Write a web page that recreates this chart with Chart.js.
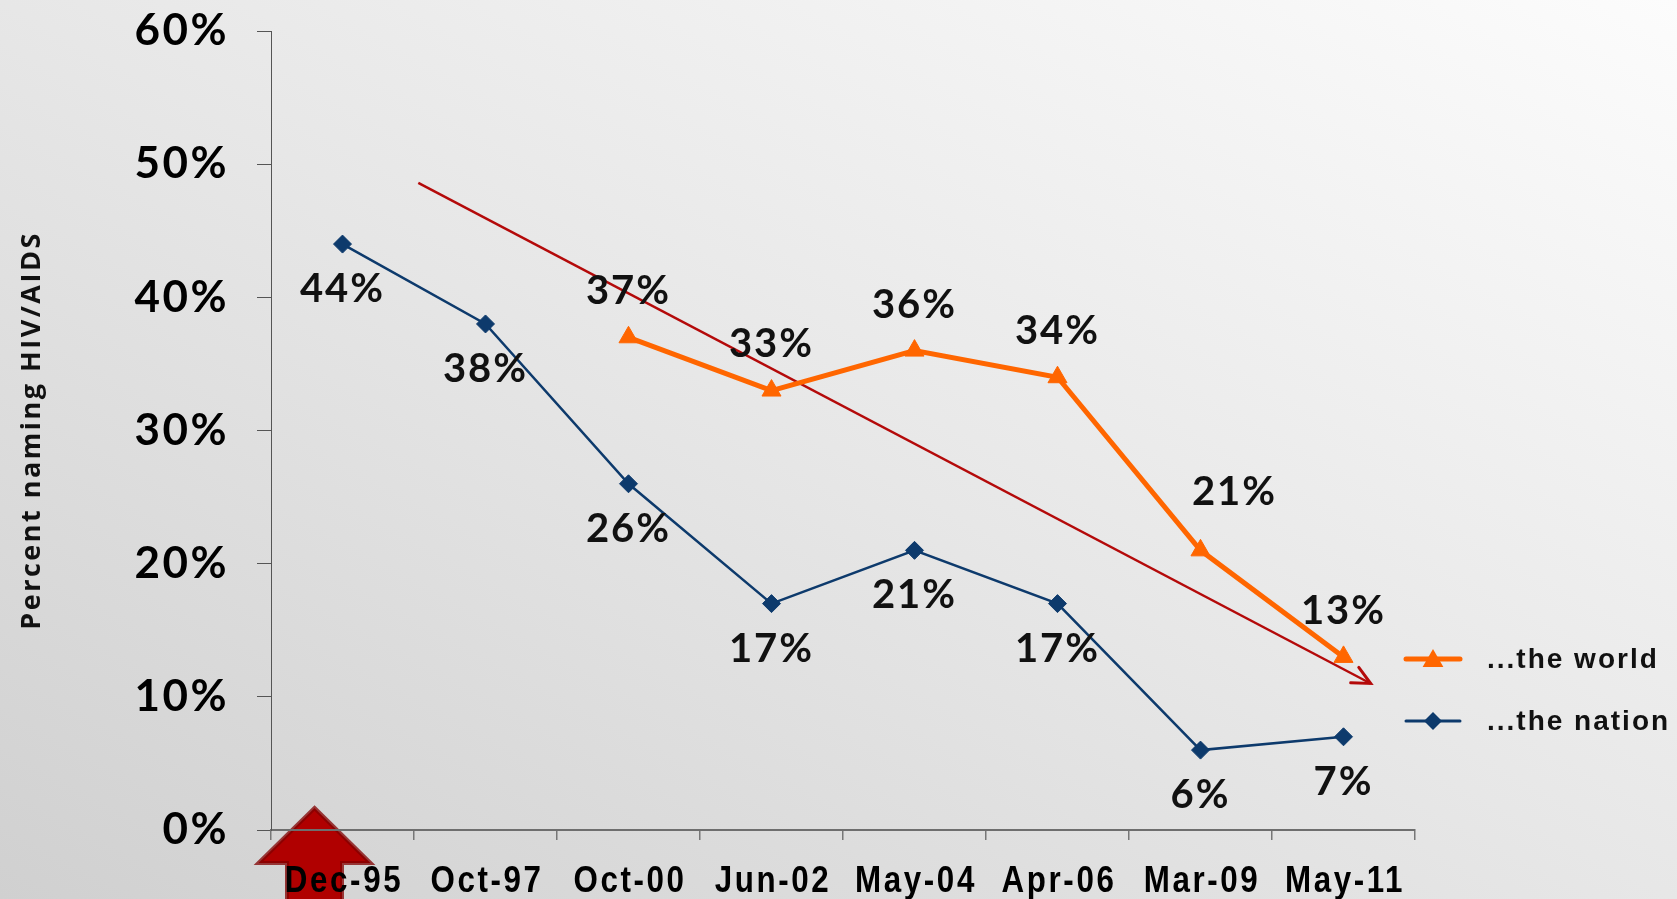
<!DOCTYPE html>
<html><head><meta charset="utf-8">
<script src="https://cdn.jsdelivr.net/npm/chart.js@4/dist/chart.umd.min.js"></script>
<style>
html,body{margin:0;padding:0;overflow:hidden;}
body{width:1677px;height:899px;background:linear-gradient(to bottom left,#fcfcfc 0%,#e7e7e7 50%,#d0d0d0 100%);}
canvas{display:block;}
</style></head><body>
<canvas id="c" width="1677" height="899"></canvas>
<script>
const categories = ['Dec-95','Oct-97','Oct-00','Jun-02','May-04','Apr-06','Mar-09','May-11'];
const worldValues = [null, null, 37, 33, 36, 34, 21, 13];
const nationValues = [44, 38, 26, 17, 21, 17, 6, 7];
const seriesNames = ['...the world', '...the nation'];
const yTickValues = [0, 10, 20, 30, 40, 50, 60];
const yAxisTitle = 'Percent naming HIV/AIDS';
const trendX = [0.53, 7.19];
const trendY = [48.6, 11.0];

const ORANGE = '#ff6600';
const BLUE = '#0d3a6c';
const RED = '#b40a0a';
const LABEL_FONT = "bold 40px Lato, 'Open Sans', sans-serif";

const bgArrow = {
  id: 'bgArrow',
  beforeDraw(chart) {
    const ctx = chart.ctx;
    const xs = chart.scales.x, ys = chart.scales.y;
    const cx = xs.getPixelForValue(0) - 28;
    const tipY = ys.bottom - 22;
    const baseY = ys.bottom + 33;
    const hw = 56, sw = 27.5;
    ctx.save();
    ctx.beginPath();
    ctx.moveTo(cx, tipY);
    ctx.lineTo(cx + hw, baseY);
    ctx.lineTo(cx + sw, baseY);
    ctx.lineTo(cx + sw, chart.height + 20);
    ctx.lineTo(cx - sw, chart.height + 20);
    ctx.lineTo(cx - sw, baseY);
    ctx.lineTo(cx - hw, baseY);
    ctx.closePath();
    ctx.fillStyle = '#b00000';
    ctx.fill();
    ctx.lineWidth = 4;
    ctx.lineJoin = 'miter';
    ctx.strokeStyle = 'rgba(130,0,0,0.75)';
    ctx.stroke();
    ctx.restore();
    ctx.letterSpacing = '2.5px';
  },
  afterDraw(chart) {
    const ctx = chart.ctx;
    const xs = chart.scales.x;
    ctx.save();
    ctx.font = "bold 36px 'Liberation Sans', Arial, sans-serif";
    ctx.letterSpacing = '3px';
    ctx.fillStyle = '#000';
    ctx.textAlign = 'center';
    ctx.textBaseline = 'middle';
    categories.forEach((c, i) => {
      const x = xs.getPixelForValue(i);
      ctx.save();
      ctx.translate(x + 1.5, xs.top + 52);
      ctx.scale(0.87, 1);
      ctx.fillText(c, 0, 0);
      ctx.restore();
    });
    ctx.restore();
    ctx.letterSpacing = '0px';
  }
};

function drawMarker(ctx, style, x, y, r, color) {
  ctx.beginPath();
  if (style === 'triangle') {
    for (let k = 0; k < 3; k++) {
      const a = k * 2 * Math.PI / 3;
      const px = x + Math.sin(a) * r, py = y - Math.cos(a) * r;
      if (k === 0) ctx.moveTo(px, py); else ctx.lineTo(px, py);
    }
  } else {
    ctx.moveTo(x, y - r); ctx.lineTo(x + r, y); ctx.lineTo(x, y + r); ctx.lineTo(x - r, y);
  }
  ctx.closePath();
  ctx.fillStyle = color;
  ctx.fill();
}

const overlay = {
  id: 'overlay',
  afterDatasetsDraw(chart) {
    const ctx = chart.ctx;
    ctx.save();
    const tm = chart.getDatasetMeta(2);
    const p0 = tm.data[0], p1 = tm.data[1];
    const ang = Math.atan2(p1.y - p0.y, p1.x - p0.x);
    const L = 20, spread = 0.45;
    ctx.strokeStyle = RED;
    ctx.lineWidth = 3;
    ctx.lineCap = 'round';
    ctx.beginPath();
    ctx.moveTo(p1.x - L * Math.cos(ang - spread), p1.y - L * Math.sin(ang - spread));
    ctx.lineTo(p1.x, p1.y);
    ctx.lineTo(p1.x - L * Math.cos(ang + spread), p1.y - L * Math.sin(ang + spread));
    ctx.stroke();

    ctx.font = LABEL_FONT;
    ctx.letterSpacing = '2px';
    ctx.fillStyle = '#111';
    ctx.textAlign = 'center';
    ctx.textBaseline = 'middle';
    const wm = chart.getDatasetMeta(0);
    worldValues.forEach((v, i) => {
      if (v === null) return;
      const pt = wm.data[i];
      let dx = 0, dy = -46;
      if (i === 6) { dx = 34; dy = -58; }
      ctx.fillText(v + '%', pt.x + dx, pt.y + dy);
    });
    const nm = chart.getDatasetMeta(1);
    nationValues.forEach((v, i) => {
      const pt = nm.data[i];
      ctx.fillText(v + '%', pt.x, pt.y + 45);
    });

    const lx0 = 1406, lx1 = 1460, tx = 1487;
    const rows = [
      {name: seriesNames[0], color: ORANGE, style: 'triangle', y: 659, lw: 5, r: 12},
      {name: seriesNames[1], color: BLUE, style: 'diamond', y: 721, lw: 3, r: 9}
    ];
    ctx.font = "bold 28px 'Liberation Sans', Arial, sans-serif";
    ctx.letterSpacing = '2px';
    ctx.textAlign = 'left';
    rows.forEach(r => {
      ctx.strokeStyle = r.color;
      ctx.lineWidth = r.lw;
      ctx.lineCap = 'round';
      ctx.beginPath();
      ctx.moveTo(lx0, r.y); ctx.lineTo(lx1, r.y); ctx.stroke();
      drawMarker(ctx, r.style, (lx0 + lx1) / 2, r.y + (r.style === 'triangle' ? 2 : 0), r.r, r.color);
      ctx.fillStyle = '#111';
      ctx.fillText(r.name, tx, r.y + 1);
    });
    ctx.restore();
  }
};

new Chart(document.getElementById('c'), {
  type: 'line',
  data: {
    labels: categories,
    datasets: [
      {
        label: seriesNames[0], data: worldValues,
        borderColor: ORANGE, backgroundColor: ORANGE, borderWidth: 5,
        pointStyle: 'triangle', pointRadius: 11, pointBorderWidth: 1,
        tension: 0, fill: false
      },
      {
        label: seriesNames[1], data: nationValues,
        borderColor: BLUE, backgroundColor: BLUE, borderWidth: 2.5,
        pointStyle: 'rectRot', pointRadius: 9, pointBorderWidth: 1,
        tension: 0, fill: false
      },
      {
        label: 'trend', xAxisID: 'xt',
        data: trendX.map((x, i) => ({x: x, y: trendY[i]})),
        borderColor: RED, backgroundColor: RED, borderWidth: 2.5,
        pointRadius: 0, tension: 0, fill: false
      }
    ]
  },
  options: {
    responsive: false,
    animation: false,
    devicePixelRatio: 1,
    layout: {padding: {left: 0, top: 31, right: 262, bottom: 0}},
    plugins: {legend: {display: false}, tooltip: {enabled: false}, title: {display: false}},
    scales: {
      x: {
        type: 'category', offset: true,
        grid: {display: true, drawOnChartArea: false, drawTicks: true, tickLength: 10, color: '#777', lineWidth: 1.5, offset: true},
        border: {display: true, color: '#6e6e6e', width: 2},
        ticks: {display: false, autoSkip: false, maxRotation: 0, minRotation: 0},
        afterFit(s) { s.height = 69; s.paddingLeft = 0; s.paddingRight = 0; }
      },
      xt: {type: 'linear', display: false, min: -0.5, max: 7.5},
      y: {
        type: 'linear', min: 0, max: 60,
        afterBuildTicks(s) { s.ticks = yTickValues.map(v => ({value: v})); },
        grid: {display: true, drawOnChartArea: false, drawTicks: true, tickLength: 14, color: '#555', lineWidth: 1},
        border: {display: true, color: '#555', width: 1},
        ticks: {
          padding: 28, color: '#000',
          font: {family: "Lato, 'Open Sans', sans-serif", weight: 'bold', size: 44},
          callback: v => v + '%'
        },
        title: {
          display: true, text: yAxisTitle, color: '#111', padding: {top: 16, bottom: 0},
          font: {family: "'Open Sans', sans-serif", weight: 'bold', size: 27}
        },
        afterFit(s) { s.width = 271; s.paddingTop = 0; s.paddingBottom = 0; }
      }
    }
  },
  plugins: [bgArrow, overlay]
});
</script>
</body></html>
